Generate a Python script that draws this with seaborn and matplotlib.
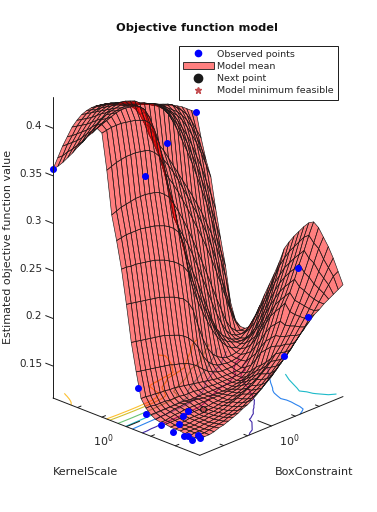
import matplotlib
matplotlib.use('Agg')
import matplotlib.pyplot as plt
from matplotlib.lines import Line2D
from matplotlib.patches import Patch
from mpl_toolkits.mplot3d import proj3d
import numpy as np
import pandas as pd
import seaborn as sns

# log10 of the hyperparameters, rows are KernelScale, columns BoxConstraint
KERNEL_LOG = np.linspace(-3, 3, 31)
BOX_LOG = np.linspace(-3, 3, 31)

# model mean, in 1/1000
MODEL_MEAN = [
    [357, 367, 377, 385, 393, 398, 402, 404, 405, 405, 404, 403, 400, 398, 396, 394, 392, 390, 388, 386, 384, 382, 380, 378, 376, 373, 370, 367, 363, 359, 355],
    [362, 371, 381, 388, 396, 401, 405, 407, 408, 408, 407, 405, 403, 401, 399, 397, 394, 392, 391, 389, 387, 384, 381, 379, 377, 372, 367, 361, 352, 341, 330],
    [368, 377, 385, 392, 399, 404, 408, 409, 411, 411, 409, 407, 405, 404, 401, 399, 396, 394, 392, 390, 387, 384, 380, 376, 372, 366, 359, 350, 338, 324, 309],
    [375, 382, 389, 396, 402, 407, 411, 413, 414, 414, 412, 410, 408, 406, 404, 401, 398, 396, 393, 390, 386, 382, 377, 372, 365, 356, 346, 335, 322, 308, 293],
    [382, 388, 394, 400, 406, 411, 414, 416, 417, 416, 414, 411, 409, 407, 405, 403, 401, 398, 395, 391, 385, 379, 371, 361, 351, 339, 325, 312, 295, 279, 261],
    [390, 394, 400, 405, 410, 415, 417, 419, 419, 418, 416, 414, 411, 409, 407, 405, 402, 398, 394, 387, 379, 370, 359, 347, 333, 319, 303, 287, 269, 251, 232],
    [397, 401, 405, 410, 414, 418, 420, 422, 423, 422, 420, 418, 414, 412, 409, 407, 403, 397, 390, 380, 368, 355, 342, 328, 312, 296, 280, 262, 242, 224, 205],
    [405, 409, 413, 417, 420, 422, 423, 424, 422, 419, 414, 406, 394, 380, 372, 366, 358, 348, 338, 328, 318, 308, 298, 287, 276, 263, 250, 235, 218, 198, 170],
    [411, 414, 417, 420, 423, 424, 425, 425, 424, 422, 418, 410, 393, 372, 360, 352, 344, 335, 325, 314, 303, 292, 281, 269, 256, 241, 224, 205, 186, 168, 153],
    [418, 420, 422, 424, 426, 427, 427, 426, 425, 422, 417, 407, 388, 362, 344, 335, 326, 316, 305, 294, 282, 270, 258, 245, 231, 216, 200, 184, 168, 155, 148],
    [415, 416, 417, 417, 417, 416, 415, 414, 412, 410, 405, 396, 380, 350, 325, 310, 300, 289, 277, 264, 250, 236, 222, 207, 192, 178, 164, 155, 150, 148, 148],
    [378, 380, 382, 383, 384, 384, 384, 383, 382, 380, 376, 370, 358, 332, 300, 287, 276, 265, 252, 238, 224, 209, 194, 180, 168, 158, 152, 149, 148, 149, 152],
    [333, 335, 337, 338, 339, 340, 340, 340, 339, 338, 336, 332, 327, 318, 290, 268, 252, 238, 225, 210, 195, 180, 168, 160, 155, 151, 149, 148, 152, 158, 165],
    [308, 309, 310, 310, 310, 310, 309, 308, 307, 305, 303, 300, 296, 290, 276, 248, 232, 218, 205, 192, 180, 169, 160, 155, 152, 150, 149, 150, 158, 168, 178],
    [280, 280, 279, 279, 278, 277, 276, 275, 273, 271, 268, 265, 261, 256, 248, 228, 213, 200, 188, 177, 168, 160, 154, 150, 148, 150, 153, 156, 167, 179, 192],
    [245, 244, 243, 242, 241, 240, 239, 238, 236, 234, 232, 229, 226, 220, 210, 192, 176, 164, 156, 151, 148, 146, 146, 147, 149, 153, 158, 165, 178, 191, 205],
    [207, 206, 205, 204, 203, 202, 201, 200, 198, 196, 194, 191, 187, 181, 173, 162, 154, 149, 146, 145, 144, 144, 145, 147, 152, 158, 166, 176, 190, 204, 218],
    [178, 177, 176, 175, 174, 173, 172, 171, 169, 168, 166, 164, 161, 157, 152, 148, 145, 143, 142, 142, 142, 143, 145, 150, 157, 164, 175, 188, 203, 218, 232],
    [152, 152, 151, 151, 150, 150, 149, 149, 148, 147, 146, 145, 144, 143, 142, 141, 140, 140, 140, 140, 140, 141, 146, 154, 165, 175, 187, 200, 216, 232, 248],
    [144, 144, 143, 143, 143, 142, 142, 142, 141, 141, 141, 140, 140, 140, 139, 139, 139, 139, 139, 139, 140, 144, 152, 162, 175, 185, 198, 212, 226, 242, 257],
    [139, 139, 139, 139, 139, 139, 139, 139, 138, 138, 138, 138, 138, 138, 138, 138, 138, 138, 138, 139, 142, 148, 158, 170, 185, 195, 208, 222, 236, 251, 265],
    [136, 137, 137, 138, 139, 139, 140, 140, 140, 139, 138, 138, 137, 137, 137, 137, 138, 139, 140, 142, 146, 156, 167, 180, 195, 205, 217, 230, 243, 258, 272],
    [135, 135, 136, 137, 137, 138, 138, 138, 138, 138, 138, 138, 138, 138, 139, 139, 140, 142, 144, 147, 152, 165, 175, 188, 202, 212, 224, 237, 250, 265, 279],
    [135, 135, 135, 135, 136, 136, 136, 136, 136, 136, 137, 137, 138, 139, 140, 141, 143, 145, 148, 152, 156, 170, 180, 193, 208, 218, 230, 243, 256, 272, 285],
    [134, 134, 134, 134, 135, 135, 135, 135, 136, 136, 137, 138, 138, 140, 141, 143, 146, 149, 152, 156, 161, 175, 185, 198, 215, 224, 236, 250, 262, 276, 288],
    [134, 134, 134, 134, 135, 135, 135, 136, 136, 137, 138, 139, 140, 142, 144, 146, 149, 152, 156, 161, 167, 178, 186, 196, 208, 218, 230, 243, 256, 270, 284],
    [134, 134, 134, 134, 135, 135, 136, 136, 137, 138, 140, 142, 144, 146, 149, 151, 155, 159, 163, 168, 174, 180, 188, 197, 207, 217, 228, 240, 253, 266, 276],
    [133, 134, 134, 134, 135, 135, 136, 137, 138, 139, 141, 143, 145, 148, 150, 153, 157, 161, 166, 171, 177, 184, 191, 199, 207, 216, 225, 235, 246, 257, 268],
    [133, 134, 134, 134, 135, 136, 137, 138, 139, 141, 143, 145, 147, 150, 153, 156, 160, 164, 169, 174, 180, 186, 193, 200, 207, 215, 223, 232, 241, 250, 258],
    [133, 134, 134, 135, 136, 137, 138, 140, 141, 143, 145, 148, 150, 153, 156, 160, 164, 169, 174, 179, 184, 190, 196, 202, 209, 215, 222, 229, 236, 243, 246],
    [133, 134, 134, 135, 137, 138, 140, 142, 144, 147, 149, 152, 156, 160, 165, 170, 174, 179, 184, 189, 195, 200, 205, 210, 215, 218, 222, 225, 228, 231, 234],
]

obs_kernel = [-3, -3, -1.08, -0.6, 1.98, 2.28, 3, -0.12, 0.40, 1.28, 1.92, 2.34, 2.44, 3, 2.7, 2.94, 1.86, 2.1, 1.8]
obs_box = [-3, 3, -0.18, -1.62, 2.16, 2.28, 0.54, -2.4, -2.6, -2.86, -3, -3, -2.94, -3, -3, -3, -2.7, -2.58, -2.46]
obs_value = [0.357, 0.355, 0.375, 0.36, 0.25, 0.2, 0.184, 0.15, 0.13, 0.13, 0.13, 0.13, 0.13, 0.135, 0.13, 0.137,
             0.135, 0.15, 0.14]
next_point = (1.86, -1.68, 0.14)

z_ticks = [0.15, 0.2, 0.25, 0.3, 0.35, 0.4]
z_tick_labels = ['0.15', '0.2', '0.25', '0.3', '0.35', '0.4']
floor_ticks = [-2, -1, 0, 1, 2]
contour_levels = [0.15, 0.2, 0.25, 0.3, 0.35, 0.38]
parula_stops = ['#3e26a8', '#2f7ff0', '#12b8d6', '#4ec48a', '#b9c02f', '#fdc030']

Z_MIN, Z_MAX = 0.1164, 0.4325
TEXT = '#262626'

sns.set_theme(style='white', rc={'font.family': ['DejaVu Sans'], 'text.color': TEXT})

fig = plt.figure(figsize=(3.77, 5.12), dpi=100)
ax = fig.add_axes([0, 0, 1, 0.736], projection='3d', computed_zorder=False, proj_type='ortho')
ax.set_axis_off()
ax.view_init(elev=23.6, azim=-45.7)
ax.set_xlim(-3, 3, view_margin=0)
ax.set_ylim(-3, 3, view_margin=0)
ax.set_zlim(Z_MIN, Z_MAX, view_margin=0)
ax.set_box_aspect((1, 1, 1.60))

mean = pd.DataFrame(np.array(MODEL_MEAN) / 1000, index=KERNEL_LOG, columns=BOX_LOG)
bx, kx = np.meshgrid(mean.columns, mean.index)
z = mean.values

ax.contour(kx, bx, z, levels=contour_levels, zdir='z', offset=Z_MIN,
           cmap=sns.blend_palette(parula_stops, as_cmap=True), linewidths=0.8, zorder=1)
ax.plot_surface(kx, bx, z, rstride=1, cstride=1, color=(1, 0, 0, 0.5), edgecolor='k',
                linewidth=0.45, shade=False, zorder=2)
ax.plot(obs_kernel, obs_box, obs_value, ls='none', marker='o', ms=4, color='#0000ff', zorder=4)
ax.plot([next_point[0]], [next_point[1]], [next_point[2]], ls='none', marker='o', ms=4, color='k', zorder=3)
ax.plot([next_point[0]], [next_point[1]], [next_point[2]], ls='none', marker='*', ms=3, color='r', zorder=3)

# axis lines drawn by hand, matlab keeps them on the front floor edges
ax_line = dict(color='#1a1a1a', lw=0.7, zorder=5)
ax.plot([-3, 3], [-3, -3], [Z_MIN, Z_MIN], **ax_line)
ax.plot([3, 3], [-3, 3], [Z_MIN, Z_MIN], **ax_line)
ax.plot([-3, -3], [-3, -3], [Z_MIN, Z_MAX], **ax_line)
for t in floor_ticks:
    n = 0.55 if t == 0 else 0.15
    ax.plot([t, t], [-3, -3 + n], [Z_MIN, Z_MIN], **ax_line)
    ax.plot([3, 3 - n], [t, t], [Z_MIN, Z_MIN], **ax_line)
for t in z_ticks:
    ax.plot([-3.3, -3], [-3, -3], [t, t], **ax_line)

fig.canvas.draw()
# put the box where the reference has it (left corner 53,398  right corner 343,398)
def to_px(x, y, zv):
    p, q, _ = proj3d.proj_transform(x, y, zv, ax.get_proj())
    return ax.transData.transform((p, q))
left = to_px(-3, -3, Z_MIN)
right = to_px(3, 3, Z_MIN)
pos = ax.get_position()
s = 290 / (right[0] - left[0])
w, h = pos.width * s, pos.height * s
ax.set_position([0, 0, w, h])
fig.canvas.draw()
left = to_px(-3, -3, Z_MIN)
ax.set_position([(53 - left[0]) / 377, (114 - left[1]) / 512, w, h])
fig.canvas.draw()

for t, lab in zip(z_ticks, z_tick_labels):
    fig.text(42 / 377, (to_px(-3, -3, t)[1] + 2) / 512, lab, ha='right', va='center', fontsize=7.5, color=TEXT)

fig.text(196.5 / 377, 1 - 28 / 512, 'Objective function model', ha='center', va='center',
         fontsize=8.2, fontweight='bold', color='#111111')
fig.text(8 / 377, 1 - 247 / 512, 'Estimated objective function value', rotation=90, ha='center', va='center',
         fontsize=8, color=TEXT)
fig.text(53 / 377, 1 - 472 / 512, 'KernelScale', ha='left', va='center', fontsize=8, color=TEXT)
fig.text(353 / 377, 1 - 472 / 512, 'BoxConstraint', ha='right', va='center', fontsize=8, color=TEXT)
fig.text(103 / 377, 1 - 441 / 512, r'$\mathdefault{10^0}$', ha='center', va='center', fontsize=8, color=TEXT)
fig.text(289 / 377, 1 - 441 / 512, r'$\mathdefault{10^0}$', ha='center', va='center', fontsize=8, color=TEXT)

handles = [
    Line2D([], [], ls='none', marker='o', ms=4.5, color='#0000ff'),
    Patch(facecolor='#ff8080', edgecolor='k', linewidth=0.6),
    Line2D([], [], ls='none', marker='o', ms=6, color='k'),
    Line2D([], [], ls='none', marker='*', ms=4.5, color='r'),
]
labels = ['Observed points', 'Model mean', 'Next point', 'Model minimum feasible']
leg = fig.legend(handles, labels, loc='upper left', bbox_to_anchor=(178.5 / 377, 1 - 45.5 / 512), borderaxespad=0,
                 fontsize=6.8, frameon=True, fancybox=False, framealpha=1, edgecolor='k', labelspacing=0.34,
                 handlelength=3.3, handletextpad=0.3, borderpad=0.45, labelcolor=TEXT)
leg.get_frame().set_linewidth(0.7)

fig.savefig('out.png', dpi=100)
